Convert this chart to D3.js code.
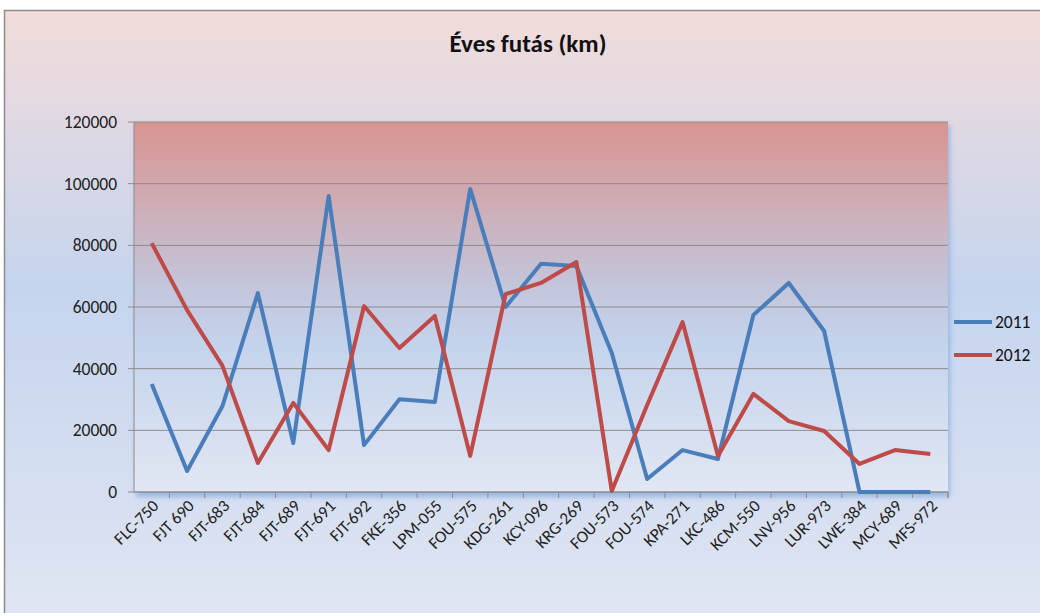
<!DOCTYPE html>
<html>
<head>
<meta charset="utf-8">
<script src="https://cdn.jsdelivr.net/npm/d3@7"></script>
<style>
  body { margin: 0; background: #fff; }
  svg { display: block; font-family: Carlito, "Open Sans", "Liberation Sans", sans-serif; }
</style>
</head>
<body>
<div id="chart"></div>
<script>
// Data
let categories = ["FLC-750", "FJT 690", "FJT-683", "FJT-684", "FJT-689", "FJT-691", "FJT-692", "FKE-356",
  "LPM-055", "FOU-575", "KDG-261", "KCY-096", "KRG-269", "FOU-573", "FOU-574", "KPA-271", "LKC-486",
  "KCM-550", "LNV-956", "LUR-973", "LWE-384", "MCY-689", "MFS-972"];
let run2011 = [35000, 6800, 27900, 64500, 15900, 96000, 15200, 30100, 29200, 98300, 60000, 74000,
  73300, 45100, 4200, 13600, 10700, 57400, 67800, 52200, 0, 0, 0];
let run2012 = [80700, 59000, 40900, 9400, 28900, 13600, 60300, 46700, 57100, 11700, 64200, 67800,
  74600, 300, 28200, 55100, 11700, 31800, 23000, 19800, 9100, 13600, 12300];
let yTicks = [0, 20000, 40000, 60000, 80000, 100000, 120000];
let seriesNames = ["2011", "2012"];
let colors = ["#4a7ebb", "#be4b48"];

let W = 1040, H = 613;
let pLeft = 134, pRight = 948, pTop = 122, pBottom = 492;

let svg = d3.select("#chart").append("svg")
  .attr("width", W)
  .attr("height", H);

let defs = svg.append("defs");

// outer background gradient
let bg = defs.append("linearGradient").attr("id", "bg").attr("x1", 0).attr("y1", 0).attr("x2", 0).attr("y2", 1);
bg.append("stop").attr("offset", "0%").attr("stop-color", "#f2dcdb");
bg.append("stop").attr("offset", "45%").attr("stop-color", "#c5d4ee");
bg.append("stop").attr("offset", "100%").attr("stop-color", "#e0e6f3");

// plot area gradient
let pg = defs.append("linearGradient").attr("id", "pg").attr("x1", 0).attr("y1", 0).attr("x2", 0).attr("y2", 1);
pg.append("stop").attr("offset", "0%").attr("stop-color", "#d99491");
pg.append("stop").attr("offset", "45%").attr("stop-color", "#c3c6dc");
pg.append("stop").attr("offset", "60%").attr("stop-color", "#c4d3ec");
pg.append("stop").attr("offset", "100%").attr("stop-color", "#e1e7f3");

let blur = defs.append("filter").attr("id", "shadow").attr("x", -0.1).attr("y", -0.1).attr("width", 1.2).attr("height", 1.2);
blur.append("feGaussianBlur").attr("stdDeviation", 2.5);

svg.append("rect")
  .attr("x", 4.5).attr("y", 10.5)
  .attr("width", W).attr("height", H)
  .attr("fill", "url(#bg)")
  .attr("stroke", "#8c8c8c")
  .attr("stroke-width", 1.5);

// Scales
let x = d3.scaleBand().domain(categories).range([pLeft, pRight]);
let y = d3.scaleLinear().domain([0, 120000]).range([pBottom, pTop]);

// plot shadow + area
svg.append("rect")
  .attr("x", pLeft + 2).attr("y", pTop + 3)
  .attr("width", pRight - pLeft).attr("height", pBottom - pTop + 2)
  .attr("fill", "#8aaee0")
  .attr("opacity", 0.8)
  .attr("filter", "url(#shadow)");
svg.append("rect")
  .attr("x", pLeft).attr("y", pTop)
  .attr("width", pRight - pLeft).attr("height", pBottom - pTop)
  .attr("fill", "url(#pg)");

// Gridlines
svg.append("g").selectAll("line")
  .data(yTicks)
  .join("line")
  .attr("x1", pLeft - 6).attr("x2", pRight)
  .attr("y1", d => y(d)).attr("y2", d => y(d))
  .attr("stroke", "#8c8c8c")
  .attr("stroke-width", 1);

// Y axis line and labels
svg.append("line")
  .attr("x1", pLeft).attr("x2", pLeft)
  .attr("y1", pTop).attr("y2", pBottom)
  .attr("stroke", "#8c8c8c");
svg.append("g").selectAll("text")
  .data(yTicks)
  .join("text")
  .attr("x", 117)
  .attr("y", d => y(d) + 6)
  .attr("text-anchor", "end")
  .attr("font-size", 17.5)
  .attr("fill", "#222")
  .text(d => d);

// X axis
let xAxis = d3.axisBottom(x).tickSize(6).tickFormat("");
let xg = svg.append("g").attr("transform", `translate(0,${pBottom})`).call(xAxis);
xg.select(".domain").attr("stroke", "#8c8c8c").attr("d", `M${pLeft},0H${pRight}`);
xg.selectAll(".tick line").attr("stroke", "#8c8c8c").attr("transform", `translate(${x.bandwidth() / 2},0)`);
svg.append("line")
  .attr("x1", pRight).attr("x2", pRight).attr("y1", pBottom).attr("y2", pBottom + 6)
  .attr("stroke", "#8c8c8c");

svg.append("g").selectAll("text")
  .data(categories)
  .join("text")
  .attr("transform", d => `translate(${x(d) + x.bandwidth() / 2 + 8},${pBottom + 15}) rotate(-45)`)
  .attr("text-anchor", "end")
  .attr("font-size", 17)
  .attr("fill", "#222")
  .text(d => d);

// Lines
let line = d3.line()
  .x((d, i) => x(categories[i]) + x.bandwidth() / 2)
  .y(d => y(d));

[run2011, run2012].forEach(function (s, k) {
  svg.append("path")
    .datum(s)
    .attr("d", line)
    .attr("fill", "none")
    .attr("stroke", colors[k])
    .attr("stroke-width", 4)
    .attr("stroke-linejoin", "round");
});

// Title
svg.append("text")
  .attr("x", 528).attr("y", 52)
  .attr("text-anchor", "middle")
  .attr("font-size", 25)
  .attr("font-weight", "bold")
  .attr("fill", "#111")
  .text("Éves futás (km)");

// Legend
let leg = svg.append("g").selectAll("g")
  .data(seriesNames)
  .join("g")
  .attr("transform", (d, i) => `translate(954,${322 + i * 33})`);
leg.append("line")
  .attr("x1", 0).attr("x2", 38)
  .attr("stroke", (d, i) => colors[i])
  .attr("stroke-width", 4);
leg.append("text")
  .attr("x", 41).attr("y", 6)
  .attr("font-size", 17.5)
  .attr("fill", "#111")
  .text(d => d);
</script>
</body>
</html>
